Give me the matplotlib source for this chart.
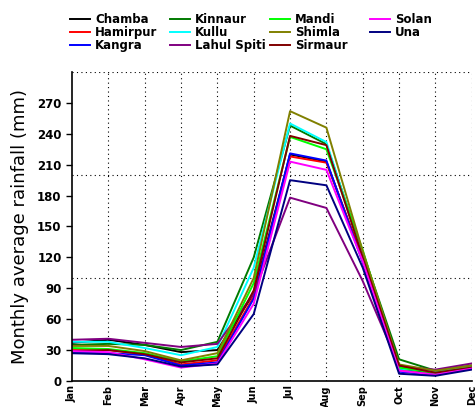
import matplotlib
matplotlib.use('Agg')
import matplotlib.pyplot as plt

months = ['Jan', 'Feb', 'Mar', 'Apr', 'May', 'Jun',
          'Jul', 'Aug', 'Sep', 'Oct', 'Nov', 'Dec']

# Monthly average rainfall (mm) per district
chamba = [37, 40, 35, 28, 30, 85, 220, 213, 118, 12, 8, 13]
hamirpur = [30, 30, 26, 16, 20, 82, 218, 212, 118, 10, 6, 12]
kangra = [27, 27, 25, 15, 18, 80, 221, 214, 115, 9, 6, 12]
kinnaur = [35, 36, 35, 30, 38, 120, 248, 230, 125, 21, 10, 15]
kullu = [38, 38, 32, 25, 33, 110, 250, 232, 122, 12, 9, 14]
lahul_spiti = [40, 41, 37, 33, 36, 85, 178, 168, 97, 14, 11, 17]
mandi = [32, 31, 27, 19, 24, 95, 237, 225, 127, 13, 8, 13]
shimla = [34, 34, 29, 20, 27, 100, 262, 246, 126, 16, 10, 15]
sirmaur = [29, 30, 26, 18, 22, 88, 238, 229, 120, 15, 8, 13]
solan = [29, 28, 21, 13, 17, 75, 213, 205, 116, 10, 6, 12]
una = [27, 26, 22, 14, 16, 65, 195, 190, 110, 7, 5, 11]

districts = ['Chamba', 'Hamirpur', 'Kangra', 'Kinnaur', 'Kullu', 'Lahul Spiti',
             'Mandi', 'Shimla', 'Sirmaur', 'Solan', 'Una']
series = [chamba, hamirpur, kangra, kinnaur, kullu, lahul_spiti,
          mandi, shimla, sirmaur, solan, una]
colors = ['#000000', '#ff0000', '#0000ff', '#007a00', '#00ffff', '#800080',
          '#00ff00', '#808000', '#800000', '#ff00ff', '#000080']

fig = plt.figure(figsize=(4.77, 4.07), dpi=100)
ax = fig.add_axes([0.151, 0.064, 0.838, 0.759])

x = list(range(len(months)))
lines = []
for name, vals, c in zip(districts, series, colors):
    ln, = ax.plot(x, vals, color=c, lw=1.4, label=name)
    lines.append(ln)

# dotted grid: every month vertically, every 100 mm horizontally
for xi in x[1:]:
    ax.axvline(xi, color='black', ls=(0, (1, 3)), lw=0.8, zorder=0)
for yi in [100, 200, 300]:
    ax.axhline(yi, color='black', ls=(0, (1, 3)), lw=0.8, zorder=0)

ax.set_xlim(0, 11)
ax.set_ylim(0, 300)
ax.set_yticks(range(0, 271, 30))
ax.set_xticks(x)
ax.set_xticklabels(months, rotation=90, fontsize=7, fontweight='bold')
ax.tick_params(axis='y', labelsize=8.5, length=4, width=1)
ax.tick_params(axis='x', length=0, pad=3)
for lab in ax.get_yticklabels():
    lab.set_fontweight('bold')

ax.spines['top'].set_visible(False)
ax.spines['right'].set_visible(False)
ax.spines['left'].set_linewidth(1.2)
ax.spines['bottom'].set_linewidth(1.2)

ax.set_ylabel('Monthly average rainfall (mm)', fontsize=13, labelpad=6)

# legend in four evenly spaced columns of three
for col in range(4):
    idx = range(col * 3, min(col * 3 + 3, len(lines)))
    fig.legend([lines[i] for i in idx], [districts[i] for i in idx],
               loc='upper left', bbox_to_anchor=(0.147 + col * 0.2096, 0.968),
               frameon=False, prop={'weight': 'bold', 'size': 8.5},
               handlelength=1.7, handletextpad=0.4,
               labelspacing=0.0, borderaxespad=0, borderpad=0)

fig.savefig('out.png', dpi=100)
